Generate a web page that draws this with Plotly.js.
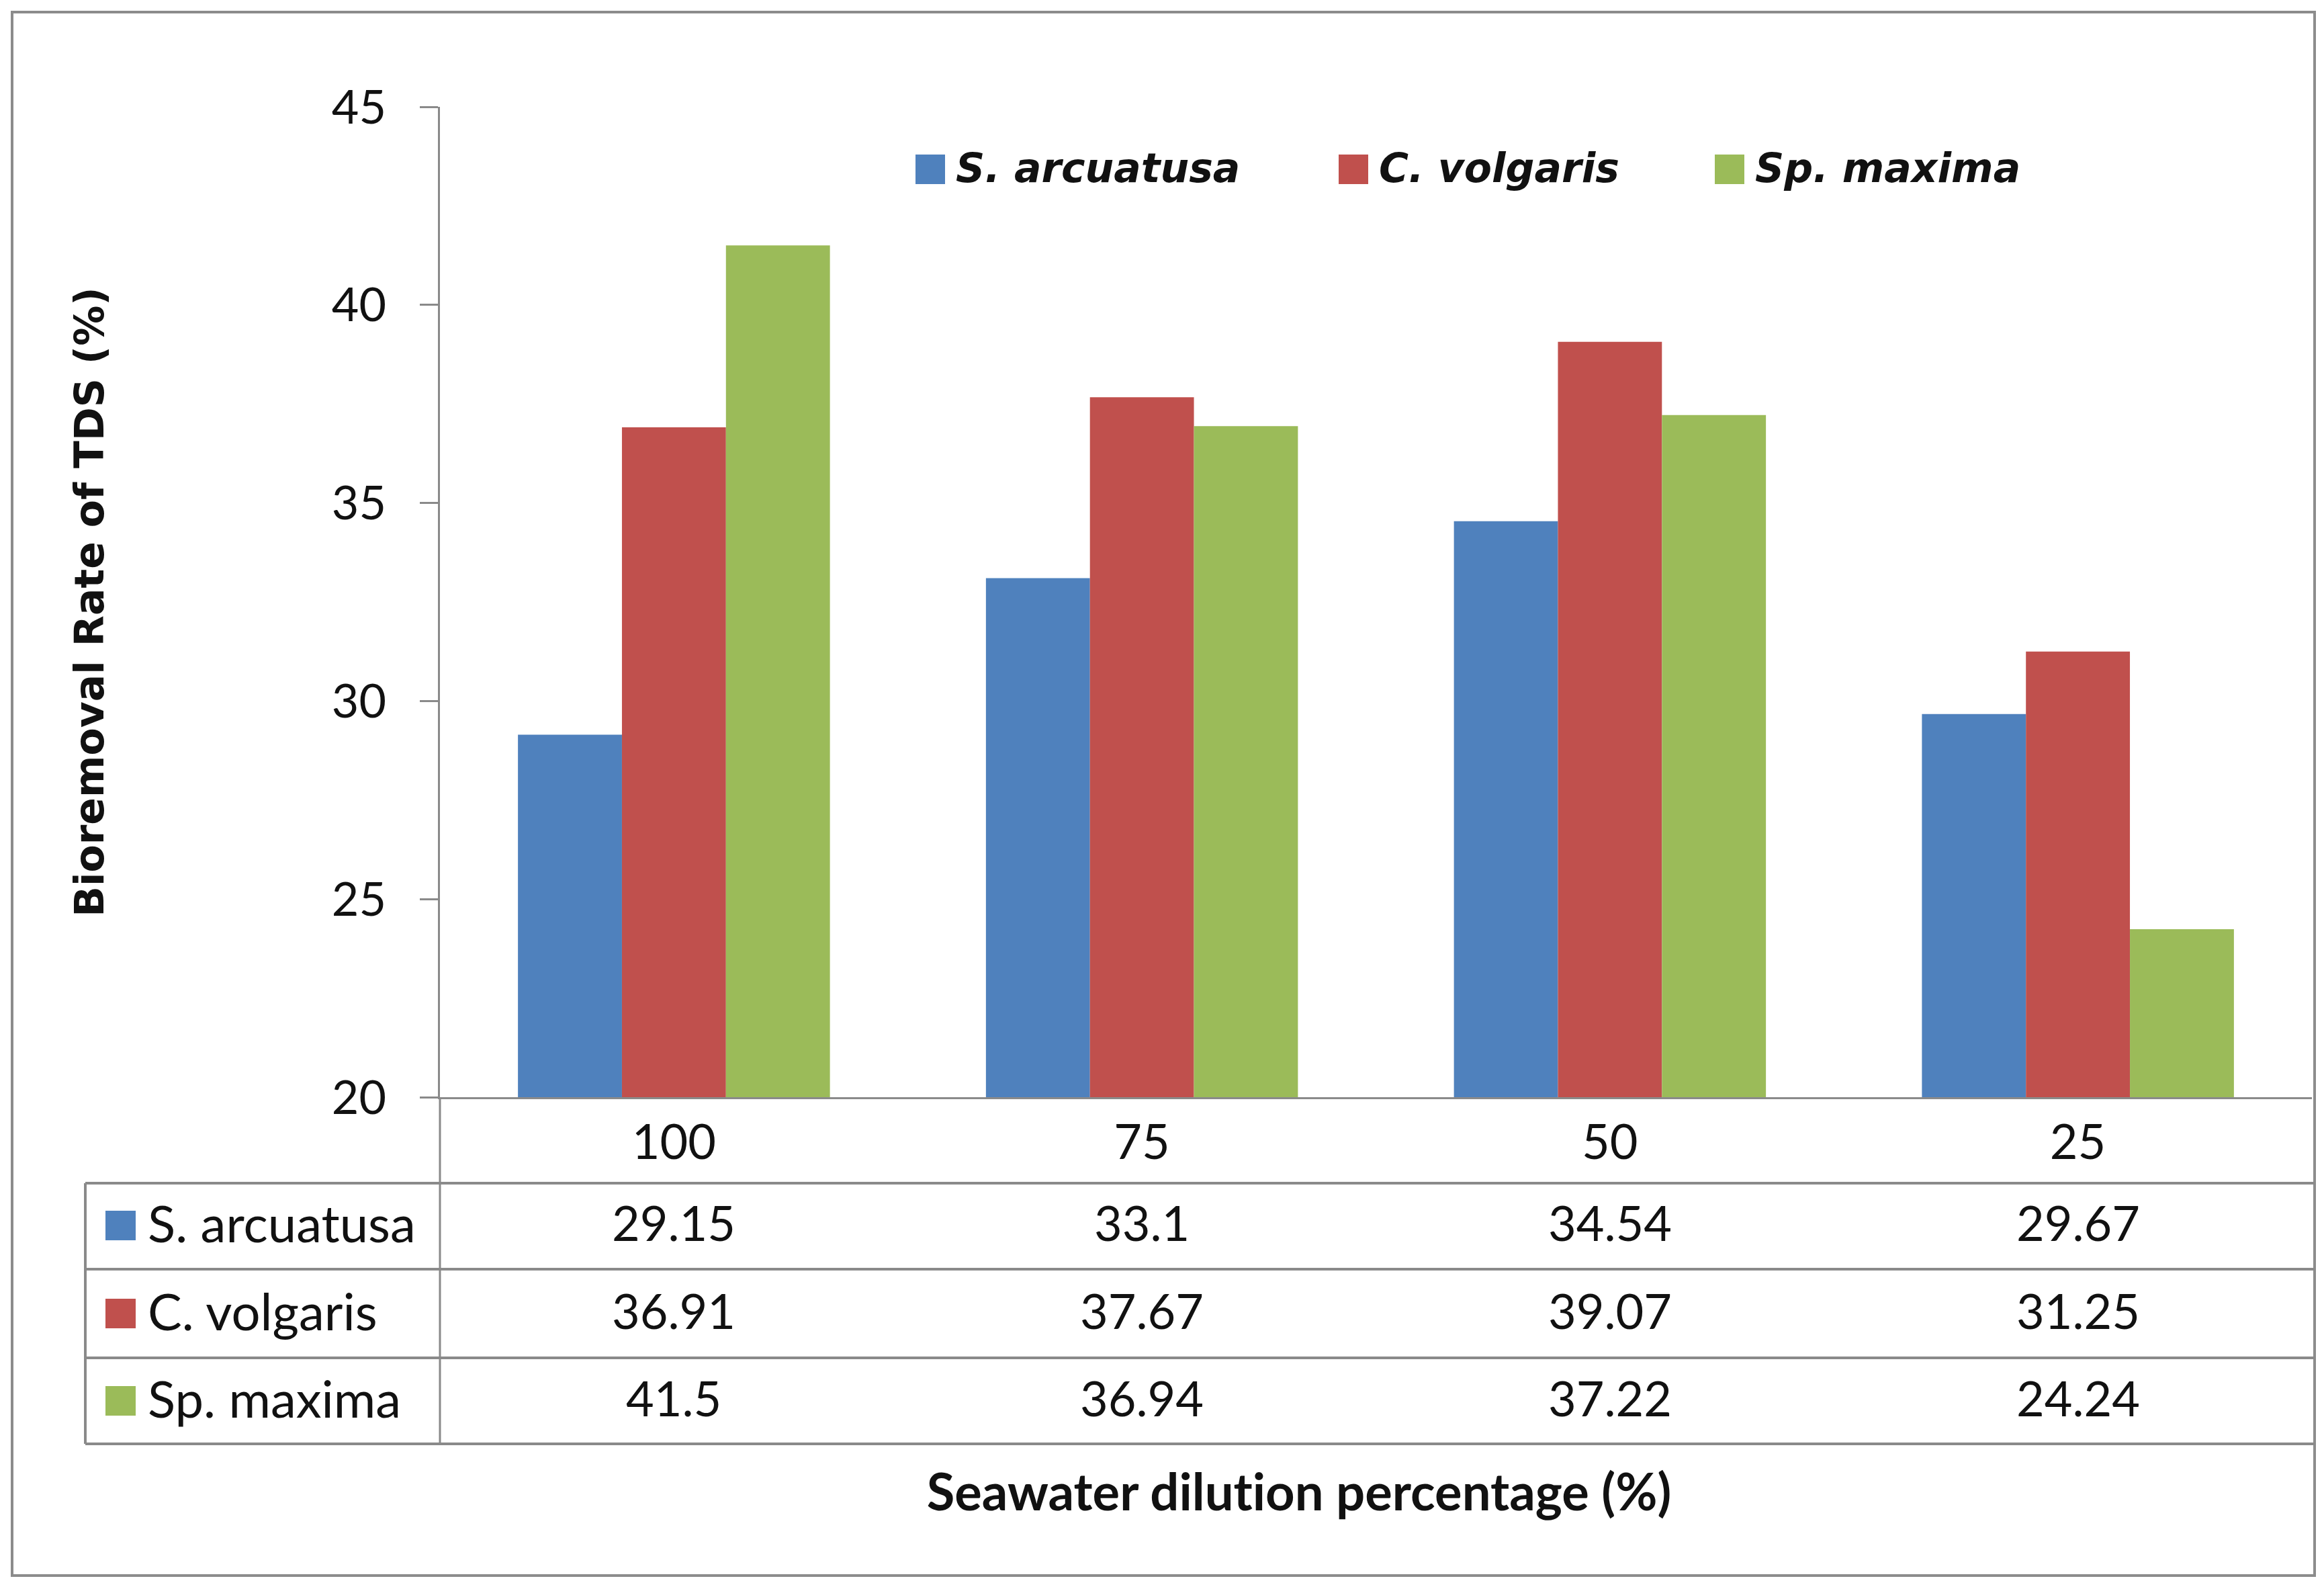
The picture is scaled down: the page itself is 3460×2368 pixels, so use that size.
<!DOCTYPE html>
<html>
<head>
<meta charset="utf-8">
<script src="https://cdn.plot.ly/plotly-3.0.1.min.js"></script>
<style>
html,body{margin:0;padding:0;background:#fff;}
#chart{width:3460px;height:2368px;}
#chart text{font-variant-ligatures:none;font-feature-settings:"liga" 0,"clig" 0;}
</style>
</head>
<body>
<div id="chart"></div>
<script>
// ---- data ----
const categories = ['100', '75', '50', '25'];
const seriesNames = ['S. arcuatusa', 'C. volgaris', 'Sp. maxima'];
const sArcuatusa = [29.15, 33.1, 34.54, 29.67];
const cVolgaris = [36.91, 37.67, 39.07, 31.25];
const spMaxima = [41.5, 36.94, 37.22, 24.24];
const seriesColors = ['#4F81BD', '#C0504D', '#9BBB59'];
const yTickVals = [20, 25, 30, 35, 40, 45];
const yTitle = 'Bioremoval Rate of TDS (%)';
const xTitle = 'Seawater dilution percentage (%)';

const seriesValues = [sArcuatusa, cVolgaris, spMaxima];

// ---- geometry (pixels) ----
const W = 3460, H = 2368;
const L = 655, R = 3442, T = 159, B = 1633;
function xp(px) { return (px - L) / (R - L); }
function yp(py) { return (B - py) / (B - T); }
function catPaper(j) { return (j + 0.5) / categories.length; }

const gridColor = '#8A8A8A';
const bodyFont = 'Lato, "Open Sans", sans-serif';

const traces = seriesNames.map((name, i) => ({
  type: 'bar',
  name: name,
  x: categories,
  y: seriesValues[i],
  marker: { color: seriesColors[i], line: { width: 0 } },
  showlegend: false,
  hoverinfo: 'x+y+name'
}));

const shapes = [];
const annotations = [];

// outer border
shapes.push({ type: 'rect', xref: 'paper', yref: 'paper', x0: xp(18), x1: xp(3446), y0: yp(2345), y1: yp(18),
  line: { color: '#8C8C8C', width: 4 }, fillcolor: 'rgba(0,0,0,0)', layer: 'below' });

// data table lines
const rowLines = [1761, 1889, 2021, 2149];
rowLines.forEach(py => shapes.push({ type: 'line', xref: 'paper', yref: 'paper', x0: xp(127), x1: xp(3446), y0: yp(py), y1: yp(py),
  line: { color: gridColor, width: 4 } }));
shapes.push({ type: 'line', xref: 'paper', yref: 'paper', x0: xp(127), x1: xp(127), y0: yp(1761), y1: yp(2149), line: { color: gridColor, width: 4 } });
shapes.push({ type: 'line', xref: 'paper', yref: 'paper', x0: xp(655), x1: xp(655), y0: yp(1633), y1: yp(2149), line: { color: gridColor, width: 3 } });

// table rows: key squares, labels, values
const rowCenters = [1824, 1955, 2085];
seriesNames.forEach((name, i) => {
  const cy = rowCenters[i];
  shapes.push({ type: 'rect', xref: 'paper', yref: 'paper', x0: xp(157), x1: xp(202), y0: yp(cy + 22), y1: yp(cy - 22),
    fillcolor: seriesColors[i], line: { width: 0 } });
  annotations.push({ xref: 'paper', yref: 'paper', x: xp(218), y: yp(cy - 5), xanchor: 'left', yanchor: 'middle',
    text: name, showarrow: false, font: { family: bodyFont, size: 76, color: '#111' } });
  categories.forEach((c, j) => {
    annotations.push({ xref: 'paper', yref: 'paper', x: catPaper(j), y: yp(cy - 5), xanchor: 'center', yanchor: 'middle',
      text: String(seriesValues[i][j]), showarrow: false, font: { family: bodyFont, size: 72, color: '#111' } });
  });
});

// legend (top, inside plot)
const legendSq = [1363, 1993, 2553];
seriesNames.forEach((name, i) => {
  const cy = 252;
  shapes.push({ type: 'rect', xref: 'paper', yref: 'paper', x0: xp(legendSq[i]), x1: xp(legendSq[i] + 44), y0: yp(cy + 22), y1: yp(cy - 22),
    fillcolor: seriesColors[i], line: { width: 0 } });
  annotations.push({ xref: 'paper', yref: 'paper', x: xp(legendSq[i] + 58), y: yp(cy - 2), xanchor: 'left', yanchor: 'middle',
    text: '<b><i>' + name + '</i></b>', showarrow: false, font: { family: '"DejaVu Sans", Verdana, sans-serif', size: 60, color: '#111' } });
});

// x title (centred under the table as in the reference)
annotations.push({ xref: 'paper', yref: 'paper', x: xp(1934), y: yp(2218), xanchor: 'center', yanchor: 'middle',
  text: '<b>' + xTitle + '</b>', showarrow: false, font: { family: bodyFont, size: 76, color: '#111' } });

const layout = {
  width: W, height: H,
  margin: { l: L, r: W - R, t: T, b: H - B, pad: 0 },
  paper_bgcolor: '#FFFFFF', plot_bgcolor: '#FFFFFF',
  barmode: 'group', bargap: 1 / 3, bargroupgap: 0,
  showlegend: false,
  xaxis: {
    type: 'category', categoryorder: 'array', categoryarray: categories,
    range: [-0.5, categories.length - 0.5],
    showline: true, linecolor: gridColor, linewidth: 3,
    ticks: '', showgrid: false, zeroline: false,
    tickfont: { family: bodyFont, size: 72, color: '#111' },
    ticklabelstandoff: 3,
    automargin: false
  },
  yaxis: {
    range: [20, 45], tickvals: yTickVals, ticktext: yTickVals.map(String),
    showline: true, linecolor: gridColor, linewidth: 3,
    ticks: 'outside', ticklen: 27, tickwidth: 3, tickcolor: gridColor,
    showgrid: false, zeroline: false,
    tickfont: { family: bodyFont, size: 70, color: '#111' },
    ticklabelstandoff: 36,
    title: { text: yTitle, font: { family: '"DejaVu Sans", Verdana, sans-serif', size: 60, color: '#111', weight: 700 }, standoff: 320 },
    automargin: false
  },
  shapes: shapes,
  annotations: annotations
};

Plotly.newPlot('chart', traces, layout, { displayModeBar: false, staticPlot: true });
</script>
</body>
</html>
